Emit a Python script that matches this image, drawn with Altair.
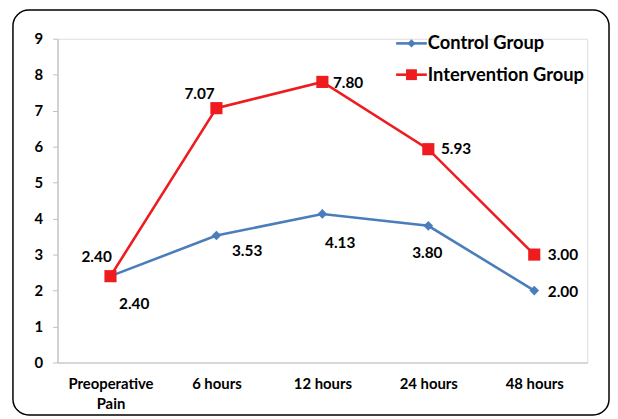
import altair as alt
import pandas as pd

categories = ["Preoperative Pain", "6 hours", "12 hours", "24 hours", "48 hours"]
series_names = ["Control Group", "Intervention Group"]
control_values = [2.40, 3.53, 4.13, 3.80, 2.00]
intervention_values = [2.40, 7.07, 7.80, 5.93, 3.00]
y_ticks = [0, 1, 2, 3, 4, 5, 6, 7, 8, 9]

# label offsets (style only)
control_offsets = [(24, 28), (31, 16), (18, 29), (-1, 28), (29, 1)]
intervention_offsets = [(-14, -19), (-17, -14), (26, 1), (28, 0), (29, 0)]

BLUE = "#4A7EBB"
RED = "#EE1B1F"
FONT = "Lato"
GRAY = "#BFBFBF"

rows = []
for name, vals in zip(series_names, [control_values, intervention_values]):
    for i, (c, v) in enumerate(zip(categories, vals)):
        rows.append({"time": c, "value": v, "series": name, "idx": i,
                     "label": f"{v:.2f}"})
df = pd.DataFrame(rows)

x_enc = alt.X(
    "time:N", sort=categories,
    scale=alt.Scale(type="point", domain=categories, padding=0.5),
    axis=alt.Axis(title=None, labelAngle=0, ticks=False, grid=False,
                  domainColor=GRAY, domainWidth=1.2,
                  labelFont=FONT, labelFontWeight="bold", labelFontSize=15,
                  labelColor="black", labelPadding=14, labelLineHeight=20,
                  labelExpr="datum.value == 'Preoperative Pain' ? ['Preoperative', 'Pain'] : datum.value"),
)
y_enc = alt.Y(
    "value:Q", scale=alt.Scale(domain=[0, 9], nice=False, zero=True),
    axis=alt.Axis(title=None, values=y_ticks, grid=False, format="d",
                  domainColor=GRAY, domainWidth=1.2, tickColor=GRAY, tickSize=5,
                  labelFont=FONT, labelFontWeight="bold", labelFontSize=15,
                  labelColor="black", labelPadding=10),
)
color_enc = alt.Color("series:N", scale=alt.Scale(domain=series_names, range=[BLUE, RED]), legend=None)

base = alt.Chart(df)

lines = base.mark_line(strokeWidth=2.6).encode(x=x_enc, y=y_enc, color=color_enc, detail="series:N")
points = base.mark_point(filled=True, opacity=1).encode(
    x=x_enc, y=y_enc, color=color_enc,
    shape=alt.Shape("series:N", scale=alt.Scale(domain=series_names, range=["diamond", "square"]), legend=None),
    size=alt.Size("series:N", scale=alt.Scale(domain=series_names, range=[95, 150]), legend=None),
)

label_layers = []
for name, offs in zip(series_names, [control_offsets, intervention_offsets]):
    for i, (dx, dy) in enumerate(offs):
        label_layers.append(
            base.transform_filter(
                (alt.datum.series == name) & (alt.datum.idx == i)
            ).mark_text(font=FONT, fontWeight="bold", fontSize=15.5, color="black",
                        align="center", baseline="middle", dx=dx, dy=dy).encode(
                x=x_enc, y=y_enc, text="label:N")
        )

# manual legend
legend_layers = []
legend_y = [4.7, 36.3]
legend_colors = [BLUE, RED]
legend_shapes = ["diamond", "square"]
legend_sizes = [70, 120]
for name, ly, col, shp, sz in zip(series_names, legend_y, legend_colors, legend_shapes, legend_sizes):
    ldf = alt.Chart(pd.DataFrame({"series": [name]}))
    legend_layers.append(ldf.mark_rule(color=col, strokeWidth=2.6).encode(
        x=alt.value(342), x2=alt.value(373), y=alt.value(ly)))
    legend_layers.append(ldf.mark_point(filled=True, opacity=1, color=col, shape=shp, size=sz).encode(
        x=alt.value(357.5), y=alt.value(ly)))
    legend_layers.append(ldf.mark_text(font=FONT, fontWeight="bold", fontSize=18.5, color="black",
                                       align="left", baseline="middle").encode(
        x=alt.value(374), y=alt.value(ly), text="series:N"))

frame = alt.Chart(pd.DataFrame({"a": [1]})).mark_rect(
    fillOpacity=0, stroke="black", strokeWidth=1.5, cornerRadius=16).encode(
    x=alt.value(-45), x2=alt.value(557), y=alt.value(-29), y2=alt.value(380))

chart = alt.layer(frame, lines, points, *label_layers, *legend_layers).properties(
    width=535, height=327,
    autosize=alt.AutoSizeParams(type="none"),
    padding={"left": 50, "top": 29, "right": 23, "bottom": 54},
).configure_view(stroke=None).configure(background="white")

chart.save("out.html", embed_options={"renderer": "svg", "actions": False})
